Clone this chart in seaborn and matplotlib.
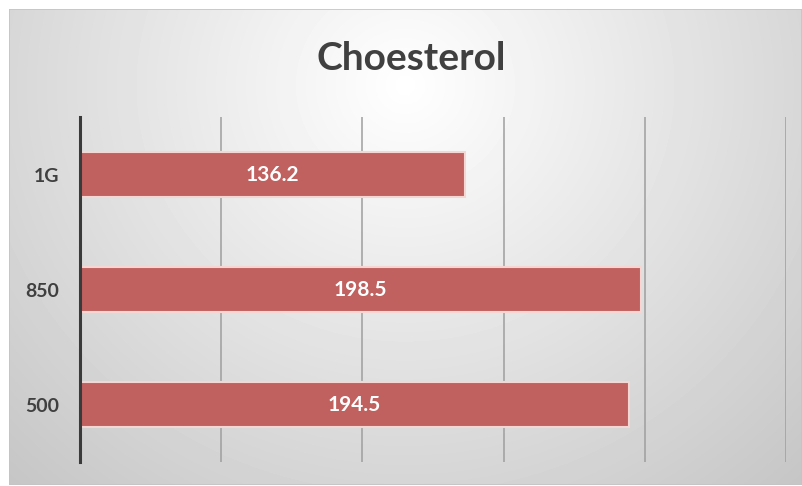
import numpy as np
import pandas as pd
import matplotlib
matplotlib.use("Agg")
import matplotlib.pyplot as plt
import seaborn as sns

# data
categories = ["1G", "850", "500"]
values = [136.2, 198.5, 194.5]
title = "Choesterol"
x_ticks = [0, 50, 100, 150, 200, 250]

df = pd.DataFrame({"group": categories, "value": values})

sns.set_theme(style="white")
plt.rcParams["font.family"] = ["Lato", "DejaVu Sans"]

W, H = 802, 486
fig = plt.figure(figsize=(W / 100, H / 100), dpi=100)
fig.patch.set_facecolor("white")

# chart area with radial grey gradient
bg = fig.add_axes([9 / W, 1 / H, 793 / W, 476 / H])
gx, gy = np.meshgrid(np.arange(9, 802), np.arange(9, 485))
d = np.sqrt((gx - 405) ** 2 + ((gy - 85) * 1.05) ** 2)
shade = np.clip(255 - 0.1 * d, 195, 255) / 255.0
bg.imshow(shade, cmap="gray", vmin=0, vmax=1, aspect="auto",
          interpolation="bilinear")
bg.set_axis_off()
bg.add_patch(plt.Rectangle((0, 0), 1, 1, transform=bg.transAxes, fill=False,
                           edgecolor="#c4c4c4", lw=1.2))

ax = fig.add_axes([80 / W, (H - 462) / H, 706 / W, 345 / H])
ax.patch.set_alpha(0)
sns.barplot(data=df, x="value", y="group", orient="h", width=0.39,
            color="#c0605f", saturation=1, edgecolor="#f6d6d2", linewidth=1.5,
            ax=ax, zorder=3)

ax.set_xlim(0, 250)
ax.set_ylim(2.5, -0.5)
ax.set_xticks(x_ticks)
ax.xaxis.grid(True, color="#9e9e9e", lw=1.1, zorder=0)
ax.set_xticklabels([])
ax.tick_params(axis="x", length=0)
ax.tick_params(axis="y", length=0, pad=15)
for lab in ax.get_yticklabels():
    lab.set_fontsize(14)
    lab.set_fontweight("bold")
    lab.set_color("#404040")
ax.set_xlabel("")
ax.set_ylabel("")
for s in ["top", "right", "bottom"]:
    ax.spines[s].set_visible(False)
ax.spines["left"].set_color("#3a3a3a")
ax.spines["left"].set_linewidth(2.2)
ax.spines["left"].set_zorder(5)

for c in ax.containers:
    ax.bar_label(c, labels=[f"{v}" for v in values], label_type="center",
                 color="white", fontsize=15, fontweight="bold")

fig.text(411 / W, 1 - 58 / H, title, ha="center", va="center",
         fontsize=28, fontweight="bold", color="#404040")

fig.savefig("out.png", dpi=100)
